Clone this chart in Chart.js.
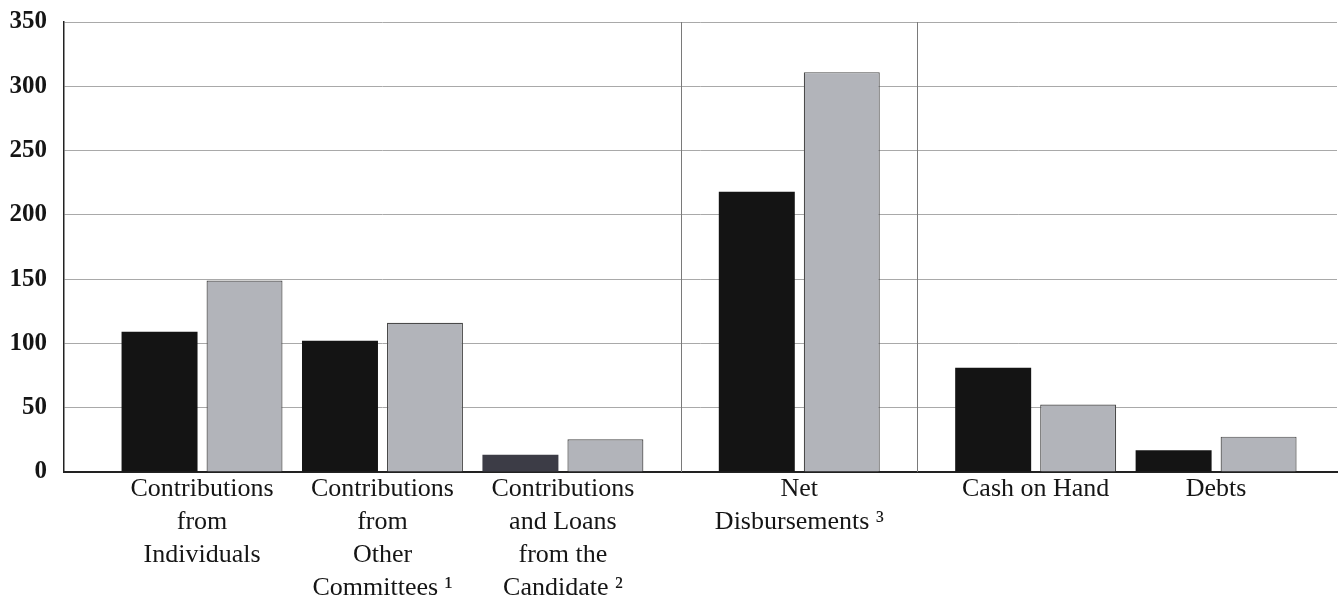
<!DOCTYPE html>
<html><head><meta charset="utf-8">
<script src="https://cdn.jsdelivr.net/npm/chart.js@4.4.0/dist/chart.umd.min.js"></script>
<style>html,body{margin:0;padding:0;background:#fff;}</style>
</head><body>
<canvas id="c" width="1342" height="614"></canvas>
<script>
const categories = [
  ["Contributions", "from", "Individuals"],
  ["Contributions", "from", "Other", "Committees \u00B9"],
  ["Contributions", "and Loans", "from the", "Candidate \u00B2"],
  ["Net", "Disbursements \u00B3"],
  ["Cash on Hand"],
  ["Debts"]
];
const seriesDark = [109, 102, 13.5, 218, 81, 17];
const seriesLight = [149, 116, 25.5, 311, 52.5, 27.5];
const yTicks = [0, 50, 100, 150, 200, 250, 300, 350];
const panelBreaks = [2, 3]; // a panel separator follows these categories

const PANEL_GAP = 0.31;
function pos(i) { return i + PANEL_GAP * panelBreaks.filter(b => b < i).length; }

const separatorPlugin = {
  id: 'separators',
  beforeDatasetsDraw(chart) {
    const xs = chart.scales.x, area = chart.chartArea, ctx = chart.ctx;
    ctx.save();
    ctx.strokeStyle = '#7a7a7a';
    ctx.lineWidth = 1;
    panelBreaks.forEach(b => {
      const px = Math.round(xs.getPixelForValue((pos(b) + pos(b + 1)) / 2)) + 0.5;
      ctx.beginPath();
      ctx.moveTo(px, area.top);
      ctx.lineTo(px, area.bottom);
      ctx.stroke();
    });
    ctx.restore();
  }
};

const darkColors = seriesDark.map((_, i) => i === 2 ? '#3c3c46' : '#141414');

new Chart(document.getElementById('c'), {
  type: 'bar',
  data: {
    datasets: [
      {
        label: 'A',
        data: seriesDark.map((v, i) => ({ x: pos(i), y: v })),
        backgroundColor: darkColors,
        borderColor: '#111',
        borderWidth: 0,
        categoryPercentage: 0.942,
        barPercentage: 0.894
      },
      {
        label: 'B',
        data: seriesLight.map((v, i) => ({ x: pos(i), y: v })),
        backgroundColor: '#b2b4ba',
        borderColor: '#4a4a4a',
        borderWidth: 1.2,
        categoryPercentage: 0.942,
        barPercentage: 0.894
      }
    ]
  },
  options: {
    responsive: false,
    animation: false,
    devicePixelRatio: 1,
    layout: { padding: { top: 22, right: 5, left: 0, bottom: 0 } },
    plugins: { legend: { display: false }, tooltip: { enabled: false } },
    scales: {
      x: {
        type: 'linear',
        offset: false,
        min: -0.765,
        max: 6.29,
        afterBuildTicks(axis) { axis.ticks = categories.map((_, i) => ({ value: pos(i) })); },
        afterFit(axis) { axis.height = 142; },
        grid: { display: false, drawTicks: false, offset: false },
        border: { display: true, color: '#222', width: 2 },
        ticks: {
          autoSkip: false,
          maxRotation: 0,
          padding: 1,
          color: '#151515',
          font: { family: 'Liberation Serif', size: 26, lineHeight: 1.27 },
          callback: (v, i) => categories[i]
        }
      },
      y: {
        min: 0,
        max: 350,
        afterBuildTicks(axis) { axis.ticks = yTicks.map(v => ({ value: v })); },
        afterFit(axis) { axis.width = 64; },
        grid: { color: '#a9a9a9', lineWidth: 1, drawTicks: true, tickLength: 17, tickColor: 'rgba(0,0,0,0)' },
        border: { display: true, color: '#222', width: 1.5 },
        ticks: {
          padding: 0,
          color: '#151515',
          font: { family: 'Liberation Serif', size: 25, weight: 'bold' }
        }
      }
    }
  },
  plugins: [separatorPlugin]
});
</script>
</body></html>
